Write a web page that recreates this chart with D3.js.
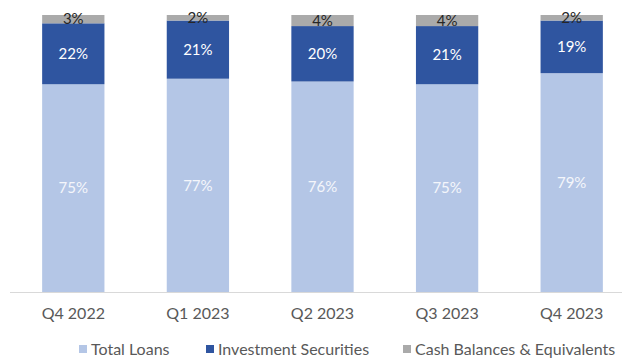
<!DOCTYPE html>
<html>
<head>
<meta charset="utf-8">
<script src="https://cdn.jsdelivr.net/npm/d3@7/dist/d3.min.js"></script>
<style>
  html, body { margin: 0; padding: 0; background: #ffffff; }
  svg { display: block; font-family: Lato, "Open Sans", sans-serif; }
</style>
</head>
<body>
<svg id="chart" width="622" height="360"></svg>
<script>
// Balance sheet mix by quarter (percent of total)
const quarters = ["Q4 2022", "Q1 2023", "Q2 2023", "Q3 2023", "Q4 2023"];
const totalLoans = [75, 77, 76, 75, 79];
const investmentSecurities = [22, 21, 20, 21, 19];
const cashBalances = [3, 2, 4, 4, 2];

const seriesNames = ["Total Loans", "Investment Securities", "Cash Balances & Equivalents"];
const seriesColors = ["#b4c6e6", "#2f55a0", "#aaaaaa"];
const labelColors = ["#f4f6fb", "#ffffff", "#262626"];

const rows = quarters.map((q, i) => ({
  quarter: q,
  "Total Loans": totalLoans[i],
  "Investment Securities": investmentSecurities[i],
  "Cash Balances & Equivalents": cashBalances[i]
}));

const svg = d3.select("#chart");

const x = d3.scaleBand()
  .domain(quarters)
  .range([11, 634])
  .paddingInner(0.5)
  .paddingOuter(0.25);

const y = d3.scaleLinear()
  .domain([0, 100])
  .range([292, 15]);

const stacked = d3.stack().keys(seriesNames)(rows);

// axis baseline
svg.append("line")
  .attr("x1", 10).attr("x2", 622)
  .attr("y1", y(0) + 0.5).attr("y2", y(0) + 0.5)
  .attr("stroke", "#d9d9d9")
  .attr("stroke-width", 1);

const layers = svg.selectAll("g.layer")
  .data(stacked)
  .join("g")
  .attr("class", "layer")
  .attr("fill", (d, i) => seriesColors[i]);

layers.selectAll("rect")
  .data(d => d)
  .join("rect")
  .attr("x", d => x(d.data.quarter))
  .attr("width", x.bandwidth())
  .attr("y", d => y(d[1]))
  .attr("height", d => y(d[0]) - y(d[1]));

// segment value labels
stacked.forEach((layer, si) => {
  svg.append("g")
    .selectAll("text")
    .data(layer)
    .join("text")
    .attr("x", d => x(d.data.quarter) + x.bandwidth() / 2)
    .attr("y", d => (y(d[0]) + y(d[1])) / 2)
    .attr("dy", "0.35em")
    .attr("text-anchor", "middle")
    .attr("font-size", 15)
    .attr("fill", labelColors[si])
    .text(d => (d[1] - d[0]) + "%");
});

// category axis labels
const xAxis = d3.axisBottom(x).tickSize(0).tickPadding(0);
const gx = svg.append("g")
  .attr("transform", `translate(0,${y(0)})`)
  .call(xAxis);
gx.select(".domain").remove();
gx.selectAll("text")
  .attr("y", 21)
  .attr("dy", "0.35em")
  .attr("font-size", 16)
  .attr("font-family", "Lato, 'Open Sans', sans-serif")
  .attr("fill", "#595959");

// legend
const legendX = [79, 206, 403];
const legend = svg.append("g")
  .selectAll("g")
  .data(seriesNames)
  .join("g")
  .attr("transform", (d, i) => `translate(${legendX[i]},349)`);

legend.append("rect")
  .attr("x", 0).attr("y", -4)
  .attr("width", 8).attr("height", 8)
  .attr("fill", (d, i) => seriesColors[i]);

legend.append("text")
  .attr("x", 12)
  .attr("dy", "0.35em")
  .attr("font-size", 16)
  .attr("fill", "#595959")
  .text(d => d);
</script>
</body>
</html>
